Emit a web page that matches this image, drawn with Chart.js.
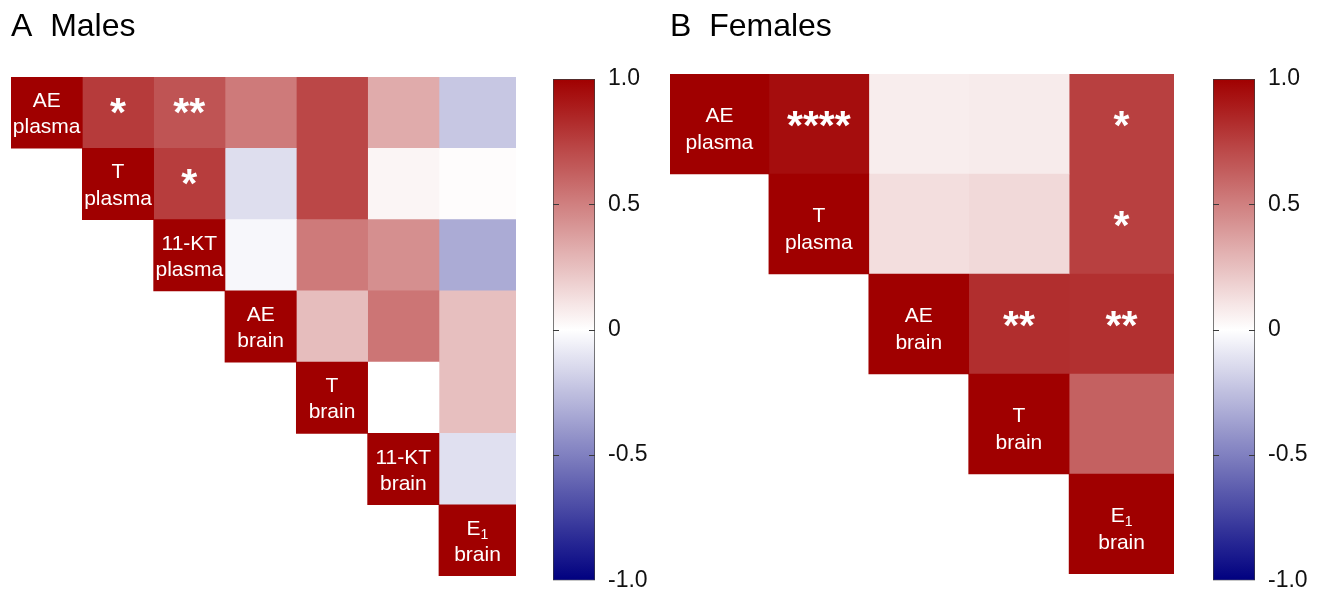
<!DOCTYPE html>
<html>
<head>
<meta charset="utf-8">
<script src="https://cdn.jsdelivr.net/npm/chart.js@4.4.1/dist/chart.umd.min.js"></script>
<style>
  html, body { margin: 0; padding: 0; background: #fff; overflow: hidden; }
  #wrap { position: relative; width: 1324px; height: 592px; overflow: hidden; }
  canvas { position: absolute; top: 0; }
</style>
</head>
<body>
<div id="wrap">
  <canvas id="heat_a" width="540" height="592" style="left:0px"></canvas>
  <canvas id="bar_a" width="120" height="605" style="left:540px"></canvas>
  <canvas id="heat_b" width="540" height="592" style="left:660px"></canvas>
  <canvas id="bar_b" width="124" height="605" style="left:1200px"></canvas>
</div>
<script>
// MALES
const rowsA = ['AE plasma', 'T plasma', '11-KT plasma', 'AE brain', 'T brain', '11-KT brain', 'E1 brain'];
const diagA = [['AE', 'plasma'], ['T', 'plasma'], ['11-KT', 'plasma'], ['AE', 'brain'], ['T', 'brain'], ['11-KT', 'brain'], ['E₁', 'brain']];
const corrA = [
  [1, 0.77, 0.67, 0.52, 0.72, 0.33, -0.22],
  [null, 1, 0.76, -0.13, 0.72, 0.04, 0.01],
  [null, null, 1, -0.03, 0.52, 0.44, -0.33],
  [null, null, null, 1, 0.26, 0.54, 0.25],
  [null, null, null, null, 1, 0.0, 0.25],
  [null, null, null, null, null, 1, -0.12],
  [null, null, null, null, null, null, 1]
];
const starsA = [[0, 1, '*'], [0, 2, '**'], [1, 2, '*']];

// FEMALES
const rowsB = ['AE plasma', 'T plasma', 'AE brain', 'T brain', 'E1 brain'];
const diagB = [['AE', 'plasma'], ['T', 'plasma'], ['AE', 'brain'], ['T', 'brain'], ['E₁', 'brain']];
const corrB = [
  [1, 0.95, 0.07, 0.08, 0.75],
  [null, 1, 0.13, 0.15, 0.75],
  [null, null, 1, 0.82, 0.81],
  [null, null, null, 1, 0.62],
  [null, null, null, null, 1]
];
const starsB = [[0, 1, '****'], [0, 4, '*'], [1, 4, '*'], [2, 3, '**'], [2, 4, '**']];

// colour bar
const barTickValues = [-1, -0.5, 0, 0.5, 1];
const barTickLabels = ['-1.0', '-0.5', '0', '0.5', '1.0'];

// layout only: the last column is drawn a bit wider
const edgesA = [0, 1, 2, 3, 4, 5, 6, 7.08];
const edgesB = [0, 0.99, 1.99, 2.99, 3.995, 5.045];

const FONT = "'Liberation Sans', Arial, Helvetica, sans-serif";

function corrColor(v) {
  if (v === null || v === undefined) return 'rgba(0,0,0,0)';
  let r, g, b;
  if (v >= 0) {
    r = 255 + (160 - 255) * v;
    g = 255 * (1 - v);
    b = g;
  } else {
    let t = -v;
    r = 255 * (1 - t);
    g = r;
    b = 255 + (128 - 255) * t;
  }
  return 'rgb(' + Math.round(r) + ',' + Math.round(g) + ',' + Math.round(b) + ')';
}

function drawLine(ctx, text, cx, y, size) {
  // handles the subscript in E1
  if (text.endsWith('₁')) {
    let main = text.slice(0, -1);
    ctx.font = size + 'px ' + FONT;
    let w1 = ctx.measureText(main).width;
    ctx.font = Math.round(size * 0.65) + 'px ' + FONT;
    let w2 = ctx.measureText('1').width;
    let x0 = cx - (w1 + w2) / 2;
    ctx.textAlign = 'left';
    ctx.font = size + 'px ' + FONT;
    ctx.fillText(main, x0, y);
    ctx.font = Math.round(size * 0.65) + 'px ' + FONT;
    ctx.fillText('1', x0 + w1, y + 4);
    ctx.textAlign = 'center';
  } else {
    ctx.font = size + 'px ' + FONT;
    ctx.fillText(text, cx, y);
  }
}

const cellText = {
  id: 'cellText',
  afterDatasetsDraw(chart, args, opts) {
    const {ctx, scales: {x, y}} = chart;
    const edges = opts.edges;
    ctx.save();
    ctx.fillStyle = '#ffffff';
    ctx.textAlign = 'center';
    ctx.textBaseline = 'alphabetic';
    opts.diag.forEach((lines, i) => {
      let cx = x.getPixelForValue((edges[i] + edges[i + 1]) / 2);
      let cy = y.getPixelForValue(i);
      drawLine(ctx, lines[0], cx, cy + opts.line1, 21);
      drawLine(ctx, lines[1], cx, cy + opts.line2, 21);
    });
    ctx.font = 'bold 41px ' + FONT;
    opts.stars.forEach(s => {
      let cx = x.getPixelForValue((edges[s[1]] + edges[s[1] + 1]) / 2);
      let cy = y.getPixelForValue(s[0]);
      ctx.fillText(s[2], cx, cy + opts.star);
    });
    ctx.restore();
  }
};

const barTicks = {
  id: 'barTicks',
  afterDatasetsDraw(chart) {
    const {ctx, chartArea, scales: {y}} = chart;
    ctx.save();
    ctx.strokeStyle = '#3a3a3a';
    ctx.lineWidth = 1;
    [0.5, 0, -0.5].forEach(v => {
      let py = Math.round(y.getPixelForValue(v)) + 0.5;
      ctx.beginPath();
      ctx.moveTo(chartArea.left, py);
      ctx.lineTo(chartArea.left + 6, py);
      ctx.moveTo(chartArea.right - 6, py);
      ctx.lineTo(chartArea.right, py);
      ctx.stroke();
    });
    ctx.restore();
  }
};

function plotHeat(id, rows, corr, edges, diag, stars, title, pad, textPos) {
  let datasets = [];
  for (let c = 0; c < edges.length - 1; c++) {
    datasets.push({
      data: rows.map((_, r) => corr[r][c] === null ? null : [edges[c], edges[c + 1]]),
      backgroundColor: rows.map((_, r) => corrColor(corr[r][c])),
      borderWidth: 0,
      grouped: false,
      barPercentage: 1,
      categoryPercentage: 1
    });
  }
  return new Chart(document.getElementById(id), {
    type: 'bar',
    data: {
      labels: rows,
      datasets: datasets
    },
    options: {
      indexAxis: 'y',
      responsive: false,
      animation: false,
      layout: {
        padding: {left: pad.left, right: pad.right, top: 0, bottom: pad.bottom}
      },
      plugins: {
        legend: {display: false},
        tooltip: {enabled: false},
        title: {
          display: true,
          text: title,
          align: 'start',
          color: '#000',
          font: {family: FONT, size: 32, weight: 'normal'},
          padding: {top: 8, bottom: pad.titleBottom}
        },
        cellText: {
          edges: edges,
          diag: diag,
          stars: stars,
          line1: textPos.line1,
          line2: textPos.line2,
          star: textPos.star
        }
      },
      scales: {
        x: {type: 'linear', min: 0, max: edges[edges.length - 1], display: false},
        y: {display: false, offset: true}
      }
    },
    plugins: [cellText]
  });
}

function plotColorBar(id, padRight) {
  return new Chart(document.getElementById(id), {
    type: 'bar',
    data: {
      labels: ['r'],
      datasets: [{
        data: [[-1, 1]],
        backgroundColor: function (context) {
          const chart = context.chart;
          if (!chart.chartArea) return null;
          const y = chart.scales.y;
          let g = chart.ctx.createLinearGradient(0, y.getPixelForValue(1), 0, y.getPixelForValue(-1));
          for (let i = 0; i <= 40; i++) {
            g.addColorStop(i / 40, corrColor(1 - i / 20));
          }
          return g;
        },
        borderColor: '#3a3a3a',
        borderWidth: 1,
        borderSkipped: false,
        barPercentage: 1,
        categoryPercentage: 1
      }]
    },
    options: {
      responsive: false,
      animation: false,
      layout: {padding: {left: 13, right: padRight, top: 79, bottom: 0}},
      plugins: {
        legend: {display: false},
        tooltip: {enabled: false}
      },
      scales: {
        x: {display: false},
        y: {
          position: 'right',
          min: -1,
          max: 1,
          afterBuildTicks: axis => { axis.ticks = barTickValues.map(v => ({value: v})); },
          afterFit: axis => { axis.width = 60; },
          grid: {display: false, drawTicks: false},
          border: {display: false},
          ticks: {
            padding: 13,
            color: '#111',
            font: {family: FONT, size: 23, lineHeight: 1},
            callback: (value, index) => barTickLabels[index]
          }
        }
      }
    },
    plugins: [barTicks]
  });
}

function init() {
  plotHeat('heat_a', rowsA, corrA, edgesA, diagA, starsA, 'A  Males',
    {left: 11, right: 24, bottom: 16, titleBottom: 30.6},
    {line1: -5.5, line2: 20.7, star: 13});
  plotColorBar('bar_a', 5);
  plotHeat('heat_b', rowsB, corrB, edgesB, diagB, starsB, 'B  Females',
    {left: 10, right: 26, bottom: 18, titleBottom: 27.6},
    {line1: -2, line2: 24.5, star: 14.5});
  plotColorBar('bar_b', 9);
}
init();
</script>
</body>
</html>
